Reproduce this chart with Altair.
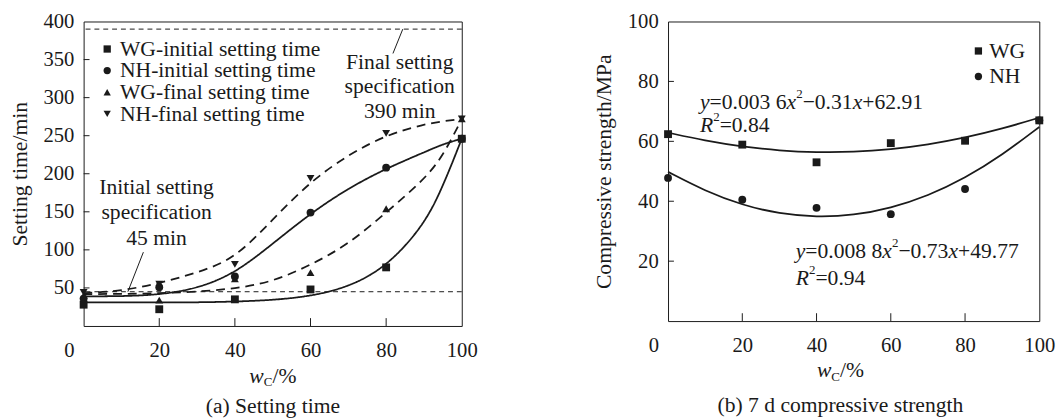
import altair as alt
import pandas as pd

# ---------------- (a) Setting time ----------------
wc_a = [0, 20, 40, 60, 80, 100]
series_a = ["WG-initial setting time", "NH-initial setting time",
            "WG-final setting time", "NH-final setting time"]
wg_initial = [28, 22, 35, 48, 77, 246]
nh_initial = [36, 51, 65, 149, 208, 246]
wg_final = [40, 34, 62, 70, 154, 272]
nh_final = [44, 55, 81, 194, 253, 272]

fit_x_a = [0, 10, 20, 30, 40, 50, 60, 70, 80, 90, 95, 100]
wg_initial_fit = [31, 31, 31, 31, 32, 34, 39, 51, 77, 132, 183, 246]
nh_initial_fit = [39, 39, 41, 49, 69, 108, 148, 181, 207, 228, 239, 246]
wg_final_fit = [42, 42, 43, 45, 49, 58, 80, 107, 149, 192, 223, 272]
nh_final_fit = [43, 46, 56, 70, 88, 140, 190, 225, 251, 265, 269, 272]
fit_kind_a = ["initial", "initial", "final", "final"]

spec_lines_a = [45, 390]
y_ticks_a = [50, 100, 150, 200, 250, 300, 350, 400]
x_ticks = [0, 20, 40, 60, 80, 100]
inner_x_ticks = [20, 40, 60, 80]

# ---------------- (b) 7 d compressive strength ----------------
wc_b = [0, 20, 40, 60, 80, 100]
series_b = ["WG", "NH"]
wg_strength = [62.4, 58.9, 53.0, 59.4, 60.2, 67.0]
nh_strength = [47.8, 40.5, 37.8, 35.7, 44.1, 67.0]
fit_x_b = [0, 10, 20, 30, 40, 50, 60, 70, 80, 90, 100]
wg_strength_fit = [62.9, 60.2, 58.2, 56.9, 56.3, 56.4, 57.3, 58.9, 61.2, 64.2, 67.9]
nh_strength_fit = [49.8, 43.4, 38.7, 35.8, 34.7, 35.3, 37.7, 41.8, 47.7, 55.4, 64.8]
y_ticks_b = [20, 40, 60, 80, 100]

# ---------------- style ----------------
FONT = "Liberation Serif"
INK = "#1a1a1a"
TXT = 22
WA, HA = 385, 310
WB, HB = 378, 305

# Times-like advance widths (em)
WID = {str(d): 0.5 for d in range(10)}
WID.update({".": 0.25, " ": 0.25, "=": 0.564, "+": 0.564, "\u2212": 0.564,
            "/": 0.278, "%": 0.833, "C": 0.667})
WID_I = {"y": 0.444, "x": 0.444, "R": 0.611, "w": 0.667}


def seg_w(text, kind, fs):
    tbl = WID_I if kind == "i" else WID
    return sum(tbl.get(ch, WID.get(ch, 0.5)) for ch in text) * fs


def rich(segments, x0, y0, size=TXT, center=False):
    sizes = [size * 0.6 if k in ("sup", "sub") else size for _, k in segments]
    total = sum(seg_w(t, k, fs) for (t, k), fs in zip(segments, sizes))
    x = x0 - total / 2 if center else x0
    out = []
    for (t, k), fs in zip(segments, sizes):
        dy = -0.36 * size if k == "sup" else (0.3 * size if k == "sub" else 0)
        out.append(
            alt.Chart(pd.DataFrame({"t": [t]}))
            .mark_text(align="left", baseline="middle", font=FONT, fontSize=fs,
                       fontStyle="italic" if k == "i" else "normal",
                       color=INK, dy=dy)
            .encode(x=alt.value(x), y=alt.value(y0), text="t:N")
        )
        x += seg_w(t, k, fs)
    return out


def xq(field):
    return alt.X(f"{field}:Q", scale=alt.Scale(domain=[0, 100], nice=False, zero=False),
                 axis=alt.Axis(values=x_ticks, title=None, grid=False, domain=False,
                               ticks=False, labelPadding=14, labelFlush=False,
                               labelOverlap=False,
                               labelOffset={"condition": {"test": "datum.value === 0",
                                                          "value": -15}, "value": 0}))


def yq(field, domain, ticks, title):
    return alt.Y(f"{field}:Q", scale=alt.Scale(domain=domain, nice=False, zero=False),
                 axis=alt.Axis(values=ticks, title=title, grid=False, domain=False,
                               ticks=False, labelPadding=10, titlePadding=12,
                               labelFlush=False))


def legend(x, y, offset, row_pad):
    return alt.Legend(title=None, orient="none", legendX=x, legendY=y,
                      labelFont=FONT, labelFontSize=TXT, labelColor=INK, labelLimit=0,
                      symbolSize=55, symbolFillColor=INK, symbolStrokeWidth=0,
                      symbolStrokeColor=INK, labelOffset=offset, rowPadding=row_pad,
                      padding=0)


# ---------------- panel (a) ----------------
pts_a = pd.DataFrame([
    {"wc": x, "t": v, "series": s}
    for s, vals in zip(series_a, [wg_initial, nh_initial, wg_final, nh_final])
    for x, v in zip(wc_a, vals)
])
fit_a = pd.DataFrame([
    {"wc": x, "t": v, "series": s, "kind": k}
    for s, k, vals in zip(series_a, fit_kind_a,
                          [wg_initial_fit, nh_initial_fit, wg_final_fit, nh_final_fit])
    for x, v in zip(fit_x_a, vals)
])

YA = lambda f: yq(f, [0, 400], y_ticks_a, "Setting time/min")

spec_a = alt.Chart(pd.DataFrame({"v": spec_lines_a})).mark_rule(
    color=INK, strokeWidth=1, strokeDash=[5, 4]).encode(y=YA("v"))

lines_a = alt.Chart(fit_a).mark_line(interpolate="basis", color=INK, strokeWidth=1.8).encode(
    x=xq("wc"), y=YA("t"), detail="series:N",
    strokeDash=alt.StrokeDash("kind:N", scale=alt.Scale(domain=["initial", "final"],
                                                        range=[[1, 0], [9, 6]]), legend=None))

points_a = alt.Chart(pts_a).mark_point(filled=True, opacity=1, color=INK, size=64).encode(
    x=xq("wc"), y=YA("t"),
    shape=alt.Shape("series:N",
                    scale=alt.Scale(domain=series_a,
                                    range=["square", "circle", "triangle-up", "triangle-down"]),
                    legend=legend(13, 17, 2, -2)))

yt_a = alt.Chart(pd.DataFrame({"v": y_ticks_a[:-1]})).mark_rule(color=INK, strokeWidth=1).encode(
    y=YA("v"), x=alt.value(0), x2=alt.value(6))
xt_a = alt.Chart(pd.DataFrame({"v": inner_x_ticks})).mark_rule(color=INK, strokeWidth=1).encode(
    x=xq("v"), y=alt.value(HA), y2=alt.value(HA - 8))

ann_init = pd.DataFrame({"label": ["Initial setting", "specification", "45 min"],
                         "wc": [19.3, 19.3, 19.3], "t": [183, 149, 116]})
ann_final = pd.DataFrame({"label": ["Final setting", "specification", "390 min"],
                          "wc": [83.6, 83.6, 83.6], "t": [347, 315, 282]})
ann_a = alt.Chart(pd.concat([ann_init, ann_final])).mark_text(
    font=FONT, fontSize=TXT, color=INK, align="center", baseline="middle").encode(
    x=xq("wc"), y=YA("t"), text="label:N")

lead_a = alt.Chart(pd.DataFrame({"x1": [15.8, 81.8], "y1": [97, 358],
                                 "x2": [11.7, 84.4], "y2": [45, 390]})).mark_rule(
    color=INK, strokeWidth=1).encode(x=xq("x1"), y=YA("y1"), x2="x2:Q", y2="y2:Q")

xtitle_a = rich([("w", "i"), ("C", "sub"), ("/%", "n")], 192.7, 361, center=True)
cap_a = alt.Chart(pd.DataFrame({"t": ["(a) Setting time"]})).mark_text(
    font=FONT, fontSize=TXT, color=INK, align="center", baseline="middle").encode(
    x=alt.value(192.7), y=alt.value(392), text="t:N")

panel_a = alt.layer(spec_a, lines_a, points_a, yt_a, xt_a, ann_a, lead_a,
                    *xtitle_a, cap_a).properties(width=WA, height=HA)

# ---------------- panel (b) ----------------
pts_b = pd.DataFrame([
    {"wc": x, "s": v, "series": s}
    for s, vals in [("NH", nh_strength), ("WG", wg_strength)]
    for x, v in zip(wc_b, vals)
])
fit_b = pd.DataFrame([
    {"wc": x, "s": v, "series": s}
    for s, vals in zip(series_b, [wg_strength_fit, nh_strength_fit])
    for x, v in zip(fit_x_b, vals)
])
YB = lambda f: yq(f, [0, 100], y_ticks_b, "Compressive strength/MPa")

lines_b = alt.Chart(fit_b).mark_line(interpolate="basis", color=INK, strokeWidth=1.8).encode(
    x=xq("wc"), y=YB("s"), detail="series:N")
points_b = alt.Chart(pts_b).mark_point(filled=True, opacity=1, color=INK, size=64).encode(
    x=xq("wc"), y=YB("s"),
    shape=alt.Shape("series:N", scale=alt.Scale(domain=series_b, range=["square", "circle"]),
                    legend=legend(305, 19, 0, 4)))
yt_b = alt.Chart(pd.DataFrame({"v": y_ticks_b[:-1]})).mark_rule(color=INK, strokeWidth=1).encode(
    y=YB("v"), x=alt.value(0), x2=alt.value(6))
xt_b = alt.Chart(pd.DataFrame({"v": inner_x_ticks})).mark_rule(color=INK, strokeWidth=1).encode(
    x=xq("v"), y=alt.value(HB), y2=alt.value(HB - 8))

eq1 = rich([("y", "i"), ("=0.003 6", "n"), ("x", "i"), ("2", "sup"), ("\u22120.31", "n"),
            ("x", "i"), ("+62.91", "n")], 32.5, 81.6)
r1 = rich([("R", "i"), ("2", "sup"), ("=0.84", "n")], 32.5, 105.7)
eq2 = rich([("y", "i"), ("=0.008 8", "n"), ("x", "i"), ("2", "sup"), ("\u22120.73", "n"),
            ("x", "i"), ("+49.77", "n")], 130, 233.8)
r2 = rich([("R", "i"), ("2", "sup"), ("=0.94", "n")], 130, 260.9)
xtitle_b = rich([("w", "i"), ("C", "sub"), ("/%", "n")], 175.5, 355, center=True)
cap_b = alt.Chart(pd.DataFrame({"t": ["(b) 7 d compressive strength"]})).mark_text(
    font=FONT, fontSize=TXT, color=INK, align="center", baseline="middle").encode(
    x=alt.value(175.5), y=alt.value(391), text="t:N")

panel_b = alt.layer(lines_b, points_b, yt_b, xt_b, *eq1, *r1, *eq2, *r2,
                    *xtitle_b, cap_b).properties(width=WB, height=HB)

chart = alt.hconcat(panel_a, panel_b, spacing=116).resolve_scale(
    shape="independent", x="independent", y="independent"
).resolve_legend(shape="independent").properties(
    padding={"left": 0, "top": -2, "right": 0, "bottom": 0}, background="white"
).configure_view(stroke=INK, strokeWidth=1).configure_axis(
    labelFont=FONT, labelFontSize=21, labelColor=INK,
    titleFont=FONT, titleFontSize=TXT, titleFontWeight="normal", titleColor=INK
)

chart.save("out.html", embed_options={"renderer": "svg", "actions": False})
